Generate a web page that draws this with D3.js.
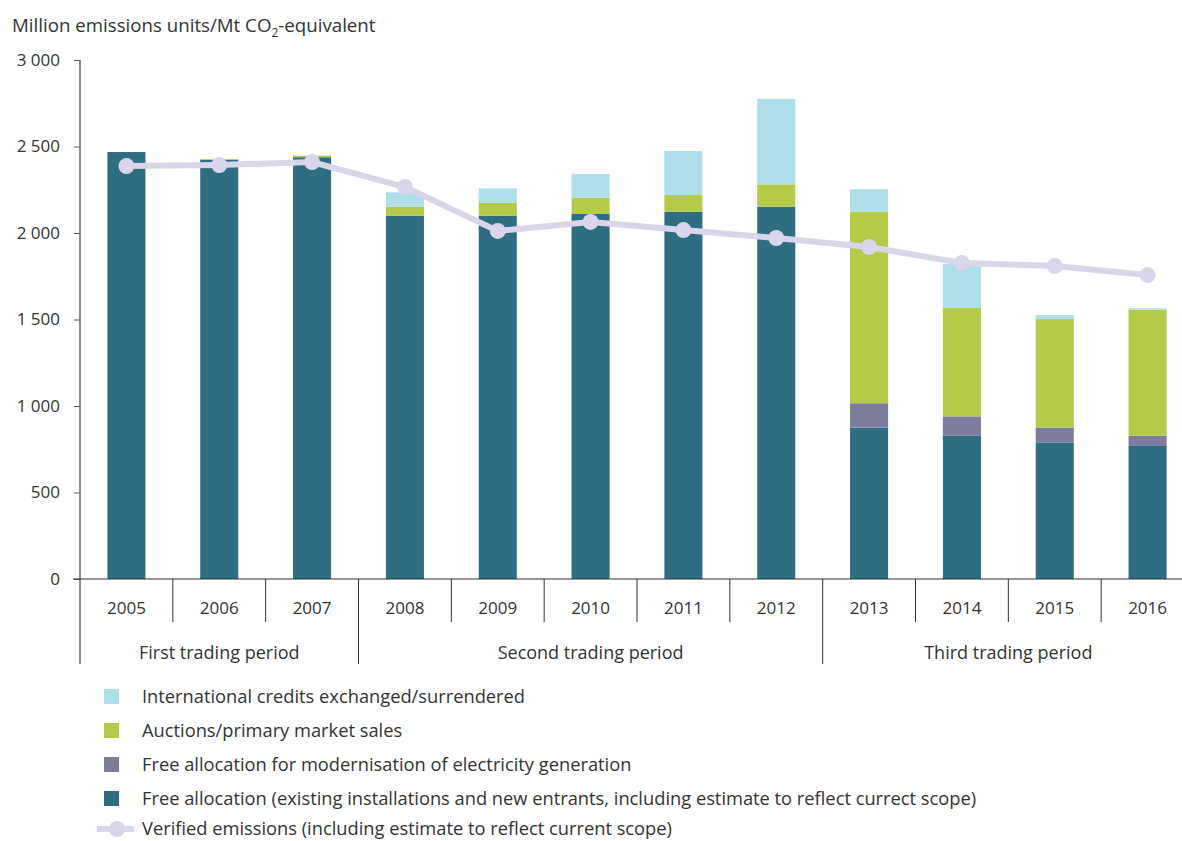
<!DOCTYPE html>
<html>
<head>
<meta charset="utf-8">
<script src="https://cdn.jsdelivr.net/npm/d3@7"></script>
<style>
  body { margin: 0; background: #fff; }
  svg text { font-family: "Open Sans", "Noto Sans", sans-serif; fill: #333; }
</style>
</head>
<body>
<div id="container"></div>
<script>
// chart data
const years = ["2005", "2006", "2007", "2008", "2009", "2010", "2011", "2012", "2013", "2014", "2015", "2016"];
const freeAllocation = [2468, 2422, 2438, 2100, 2100, 2110, 2123, 2152, 875, 828, 790, 769];
const modernisation = [0, 0, 0, 0, 0, 0, 0, 0, 141, 112, 85, 59];
const auctions = [0, 5, 9, 52, 75, 94, 97, 129, 1107, 628, 628, 729];
const intlCredits = [0, 0, 0, 83, 83, 137, 254, 494, 130, 253, 23, 8];
const verified = [2387, 2393, 2410, 2266, 2012, 2064, 2017, 1971, 1919, 1827, 1809, 1757];
const periods = [
    { name: "First trading period", from: "2005", to: "2007" },
    { name: "Second trading period", from: "2008", to: "2012" },
    { name: "Third trading period", from: "2013", to: "2016" }
];
const yTicks = [0, 500, 1000, 1500, 2000, 2500, 3000];

const seriesInfo = [
    { key: "free", label: "Free allocation (existing installations and new entrants, including estimate to reflect currect scope)", color: "#2f6e82", values: freeAllocation },
    { key: "mod", label: "Free allocation for modernisation of electricity generation", color: "#7e7c9d", values: modernisation },
    { key: "auc", label: "Auctions/primary market sales", color: "#b4ca48", values: auctions },
    { key: "intl", label: "International credits exchanged/surrendered", color: "#aedfe8", values: intlCredits }
];
const lineColor = "#d9d6ea";

const width = 1182;
const height = 841;
const margin = { top: 60, left: 80, right: 1194, bottom: 579 };
const textSize = 18;
const legendSize = 18.3;
const numSize = 17;

const svg = d3.select("#container")
    .append("svg")
    .attr("width", width)
    .attr("height", height);

const x = d3.scaleBand()
    .domain(years)
    .range([margin.left, margin.right])
    .paddingInner(0.59)
    .paddingOuter(0.295);

const xBand = d3.scaleBand()
    .domain(years)
    .range([margin.left, margin.right]);

const y = d3.scaleLinear()
    .domain([0, 3000])
    .range([margin.bottom, margin.top]);

// stacked bars
const table = years.map((yr, i) => {
    const row = { year: yr };
    seriesInfo.forEach(s => { row[s.key] = s.values[i]; });
    return row;
});
const stack = d3.stack().keys(seriesInfo.map(s => s.key));
const stacked = stack(table);

svg.append("g")
    .selectAll("g")
    .data(stacked)
    .join("g")
    .attr("fill", (d, i) => seriesInfo[i].color)
    .selectAll("rect")
    .data(d => d)
    .join("rect")
    .attr("x", d => x(d.data.year))
    .attr("width", x.bandwidth())
    .attr("y", d => y(d[1]))
    .attr("height", d => y(d[0]) - y(d[1]));

// y axis
const fmt = v => d3.format(",")(v).replace(/,/g, " ");
const yAxis = svg.append("g")
    .attr("transform", `translate(${margin.left},0)`)
    .call(d3.axisLeft(y).tickValues(yTicks).tickSize(6).tickPadding(14).tickFormat(fmt));
yAxis.select(".domain").remove();
yAxis.selectAll(".tick line").attr("stroke", "#555");
yAxis.selectAll(".tick text").attr("font-size", numSize).attr("fill", "#333");

svg.append("line")
    .attr("x1", margin.left).attr("x2", margin.left)
    .attr("y1", margin.top).attr("y2", 664)
    .attr("stroke", "#666").attr("stroke-width", 1.5);

// baseline
svg.append("line")
    .attr("x1", 73).attr("x2", width)
    .attr("y1", y(0)).attr("y2", y(0))
    .attr("stroke", "#333").attr("stroke-width", 1.2);

// year labels and separators
const xg = svg.append("g");
xg.selectAll(".yr")
    .data(years)
    .join("text")
    .attr("class", "yr")
    .attr("x", d => xBand(d) + xBand.bandwidth() / 2)
    .attr("y", 614)
    .attr("text-anchor", "middle")
    .attr("font-size", numSize)
    .text(d => d);

const periodStarts = periods.map(p => p.from);
xg.selectAll(".sep")
    .data(years.slice(1).filter(d => !periodStarts.includes(d)))
    .join("line")
    .attr("class", "sep")
    .attr("x1", d => xBand(d)).attr("x2", d => xBand(d))
    .attr("y1", y(0)).attr("y2", 622)
    .attr("stroke", "#333").attr("stroke-width", 1);

xg.selectAll(".psep")
    .data(periods.slice(1))
    .join("line")
    .attr("class", "psep")
    .attr("x1", d => xBand(d.from)).attr("x2", d => xBand(d.from))
    .attr("y1", y(0)).attr("y2", 664)
    .attr("stroke", "#333").attr("stroke-width", 1);

xg.selectAll(".pl")
    .data(periods)
    .join("text")
    .attr("class", "pl")
    .attr("x", d => (xBand(d.from) + xBand(d.to) + xBand.bandwidth()) / 2)
    .attr("y", 659)
    .attr("text-anchor", "middle")
    .attr("font-size", textSize)
    .text(d => d.name);

// verified emissions line
const line = d3.line()
    .x((d, i) => xBand(years[i]) + xBand.bandwidth() / 2)
    .y(d => y(d));

svg.append("path")
    .datum(verified)
    .attr("fill", "none")
    .attr("stroke", lineColor)
    .attr("stroke-width", 6)
    .attr("d", line);

svg.append("g")
    .selectAll("circle")
    .data(verified)
    .join("circle")
    .attr("cx", (d, i) => xBand(years[i]) + xBand.bandwidth() / 2)
    .attr("cy", d => y(d))
    .attr("r", 8)
    .attr("fill", lineColor);

// title
const title = svg.append("text")
    .attr("x", 12)
    .attr("y", 32)
    .attr("font-size", 18.7);
title.append("tspan").text("Million emissions units/Mt CO");
title.append("tspan").attr("font-size", 12).attr("dy", 5).text("2");
title.append("tspan").attr("dy", -5).text("-equivalent");

// legend
const legendItems = seriesInfo.slice().reverse();
const lg = svg.append("g");
legendItems.forEach((s, i) => {
    const ly = 697 + i * 34;
    lg.append("rect")
        .attr("x", 104).attr("y", ly - 8)
        .attr("width", 15).attr("height", 15)
        .attr("fill", s.color);
    lg.append("text")
        .attr("x", 142).attr("y", ly + 6)
        .attr("font-size", legendSize)
        .text(s.label);
});
const lly = 697 + 4 * 33;
lg.append("line")
    .attr("x1", 97).attr("x2", 134)
    .attr("y1", lly).attr("y2", lly)
    .attr("stroke", lineColor).attr("stroke-width", 6);
lg.append("circle")
    .attr("cx", 117).attr("cy", lly).attr("r", 8)
    .attr("fill", lineColor);
lg.append("text")
    .attr("x", 142).attr("y", lly + 6)
    .attr("font-size", legendSize)
    .text("Verified emissions (including estimate to reflect current scope)");
</script>
</body>
</html>
